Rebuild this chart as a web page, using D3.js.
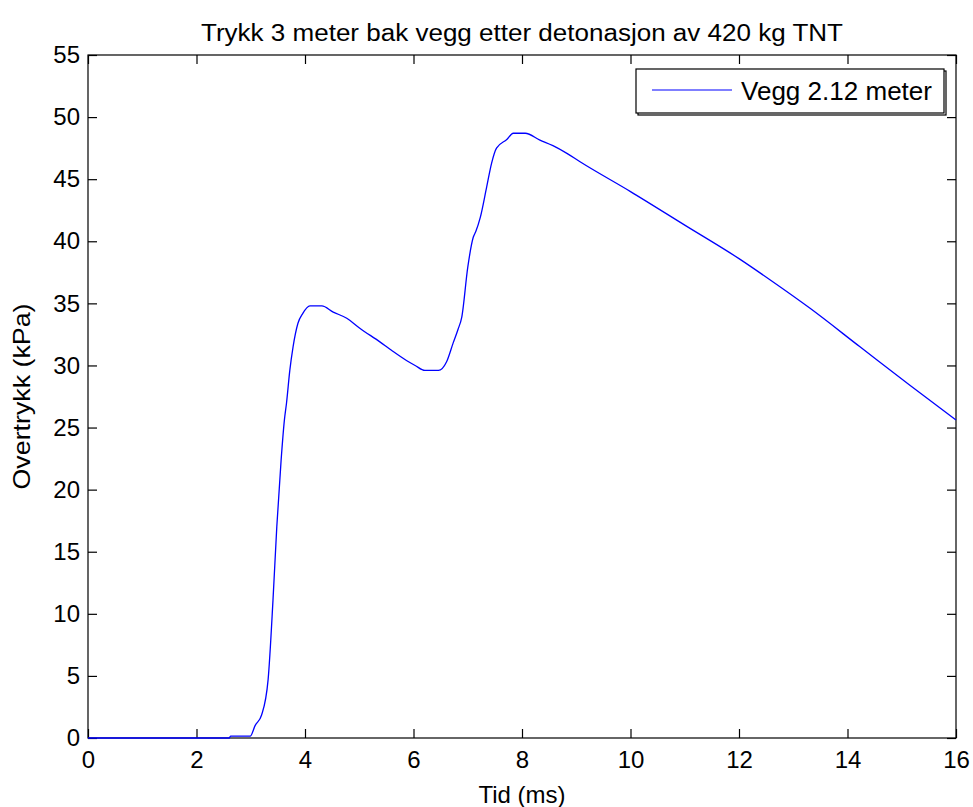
<!DOCTYPE html>
<html>
<head>
<meta charset="utf-8">
<script src="https://cdn.jsdelivr.net/npm/d3@7"></script>
<style>
  html, body { margin: 0; padding: 0; background: #fff; }
  svg { display: block; }
  text { font-family: "Liberation Sans", Arial, sans-serif; fill: #000; }
</style>
</head>
<body>
<svg id="chart" width="973" height="807"></svg>
<script>
// ---- data ----
const titleText = "Trykk 3 meter bak vegg etter detonasjon av 420 kg TNT";
const xLabel = "Tid (ms)";
const yLabel = "Overtrykk (kPa)";
const seriesName = "Vegg 2.12 meter";
const xTicks = [0, 2, 4, 6, 8, 10, 12, 14, 16];
const yTicks = [0, 5, 10, 15, 20, 25, 30, 35, 40, 45, 50, 55];
const timeMs = [0, 2.6, 2.63, 2.99, 3.08, 3.2, 3.32, 3.41, 3.48, 3.56, 3.62, 3.66, 3.72, 3.78, 3.87, 3.96, 4.09, 4.31, 4.52, 4.77, 5.01, 5.38, 5.6, 5.87, 6.03, 6.21, 6.46, 6.61, 6.73, 6.82, 6.89, 7.0, 7.1, 7.15, 7.23, 7.35, 7.44, 7.53, 7.72, 7.84, 8.06, 8.33, 8.57, 8.82, 9.07, 10.0, 11.0, 12.0, 12.57, 13.31, 14.23, 15.15, 16];
const pressureKPa = [0, 0, 0.15, 0.15, 1.0, 1.85, 4.7, 11.1, 17, 22.4, 25.6, 27, 29.6, 31.5, 33.4, 34.2, 34.8, 34.8, 34.3, 33.8, 33.0, 31.9, 31.2, 30.4, 30.0, 29.6, 29.6, 30.3, 31.8, 32.9, 33.9, 37.9, 40.3, 40.8, 41.9, 44.4, 46.3, 47.5, 48.2, 48.7, 48.7, 48.15, 47.7, 47.1, 46.4, 44.0, 41.3, 38.6, 36.9, 34.6, 31.5, 28.4, 25.6];

// ---- layout ----
const L = 88, R = 956, T = 55, B = 738;
const svg = d3.select("#chart");
const x = d3.scaleLinear().domain([0, 16]).range([L, R]);
const y = d3.scaleLinear().domain([0, 55]).range([B, T]);
const tickLen = 9;
const fs = 24;

// frame
svg.append("rect").attr("x", L).attr("y", T).attr("width", R - L).attr("height", B - T)
  .attr("fill", "#fff").attr("stroke", "#000").attr("stroke-width", 1.2);

// axes (inward ticks, all four sides)
const gB = svg.append("g").attr("transform", `translate(0,${B})`)
  .call(d3.axisBottom(x).tickValues(xTicks).tickSizeInner(-tickLen).tickSizeOuter(0).tickPadding(13));
const gT = svg.append("g").attr("transform", `translate(0,${T})`)
  .call(d3.axisTop(x).tickValues(xTicks).tickSizeInner(-tickLen).tickSizeOuter(0).tickFormat(""));
const gL = svg.append("g").attr("transform", `translate(${L},0)`)
  .call(d3.axisLeft(y).tickValues(yTicks).tickSizeInner(-tickLen).tickSizeOuter(0).tickPadding(8));
const gR = svg.append("g").attr("transform", `translate(${R},0)`)
  .call(d3.axisRight(y).tickValues(yTicks).tickSizeInner(-tickLen).tickSizeOuter(0).tickFormat(""));
[gB, gT, gL, gR].forEach(g => {
  g.select(".domain").remove();
  g.selectAll(".tick line").attr("stroke", "#000").attr("stroke-width", 1.2);
  g.selectAll(".tick text").attr("font-size", fs).attr("font-family", '"Liberation Sans", Arial, sans-serif').attr("fill", "#000");
});
gB.selectAll(".tick text").attr("dy", "0.71em");

// line
const line = d3.line().x((d, i) => x(timeMs[i])).y(d => y(d)).curve(d3.curveMonotoneX);
svg.append("path").datum(pressureKPa)
  .attr("d", line).attr("fill", "none").attr("stroke", "#0000ff").attr("stroke-width", 1.3);

// title & labels
svg.append("text").attr("x", (L + R) / 2).attr("y", 41).attr("text-anchor", "middle")
  .attr("font-size", 23).attr("textLength", 642).attr("lengthAdjust", "spacingAndGlyphs").text(titleText);
svg.append("text").attr("x", (L + R) / 2).attr("y", 803).attr("text-anchor", "middle")
  .attr("font-size", 24).text(xLabel);
svg.append("text").attr("transform", `translate(30,${(T + B) / 2}) rotate(-90)`).attr("text-anchor", "middle")
  .attr("font-size", 24).attr("textLength", 186).attr("lengthAdjust", "spacingAndGlyphs").text(yLabel);

// legend
const lg = svg.append("g");
lg.append("rect").attr("x", 638).attr("y", 71).attr("width", 308).attr("height", 44)
  .attr("fill", "none").attr("stroke", "#000").attr("stroke-width", 1.2);
lg.append("rect").attr("x", 636).attr("y", 69).attr("width", 308).attr("height", 44)
  .attr("fill", "#fff").attr("stroke", "#000").attr("stroke-width", 1.2);
lg.append("line").attr("x1", 652).attr("x2", 732).attr("y1", 90).attr("y2", 90)
  .attr("stroke", "#0000ff").attr("stroke-width", 1.2);
lg.append("text").attr("x", 741).attr("y", 100).attr("font-size", 25)
  .attr("textLength", 191).attr("lengthAdjust", "spacingAndGlyphs").text(seriesName);
</script>
</body>
</html>
